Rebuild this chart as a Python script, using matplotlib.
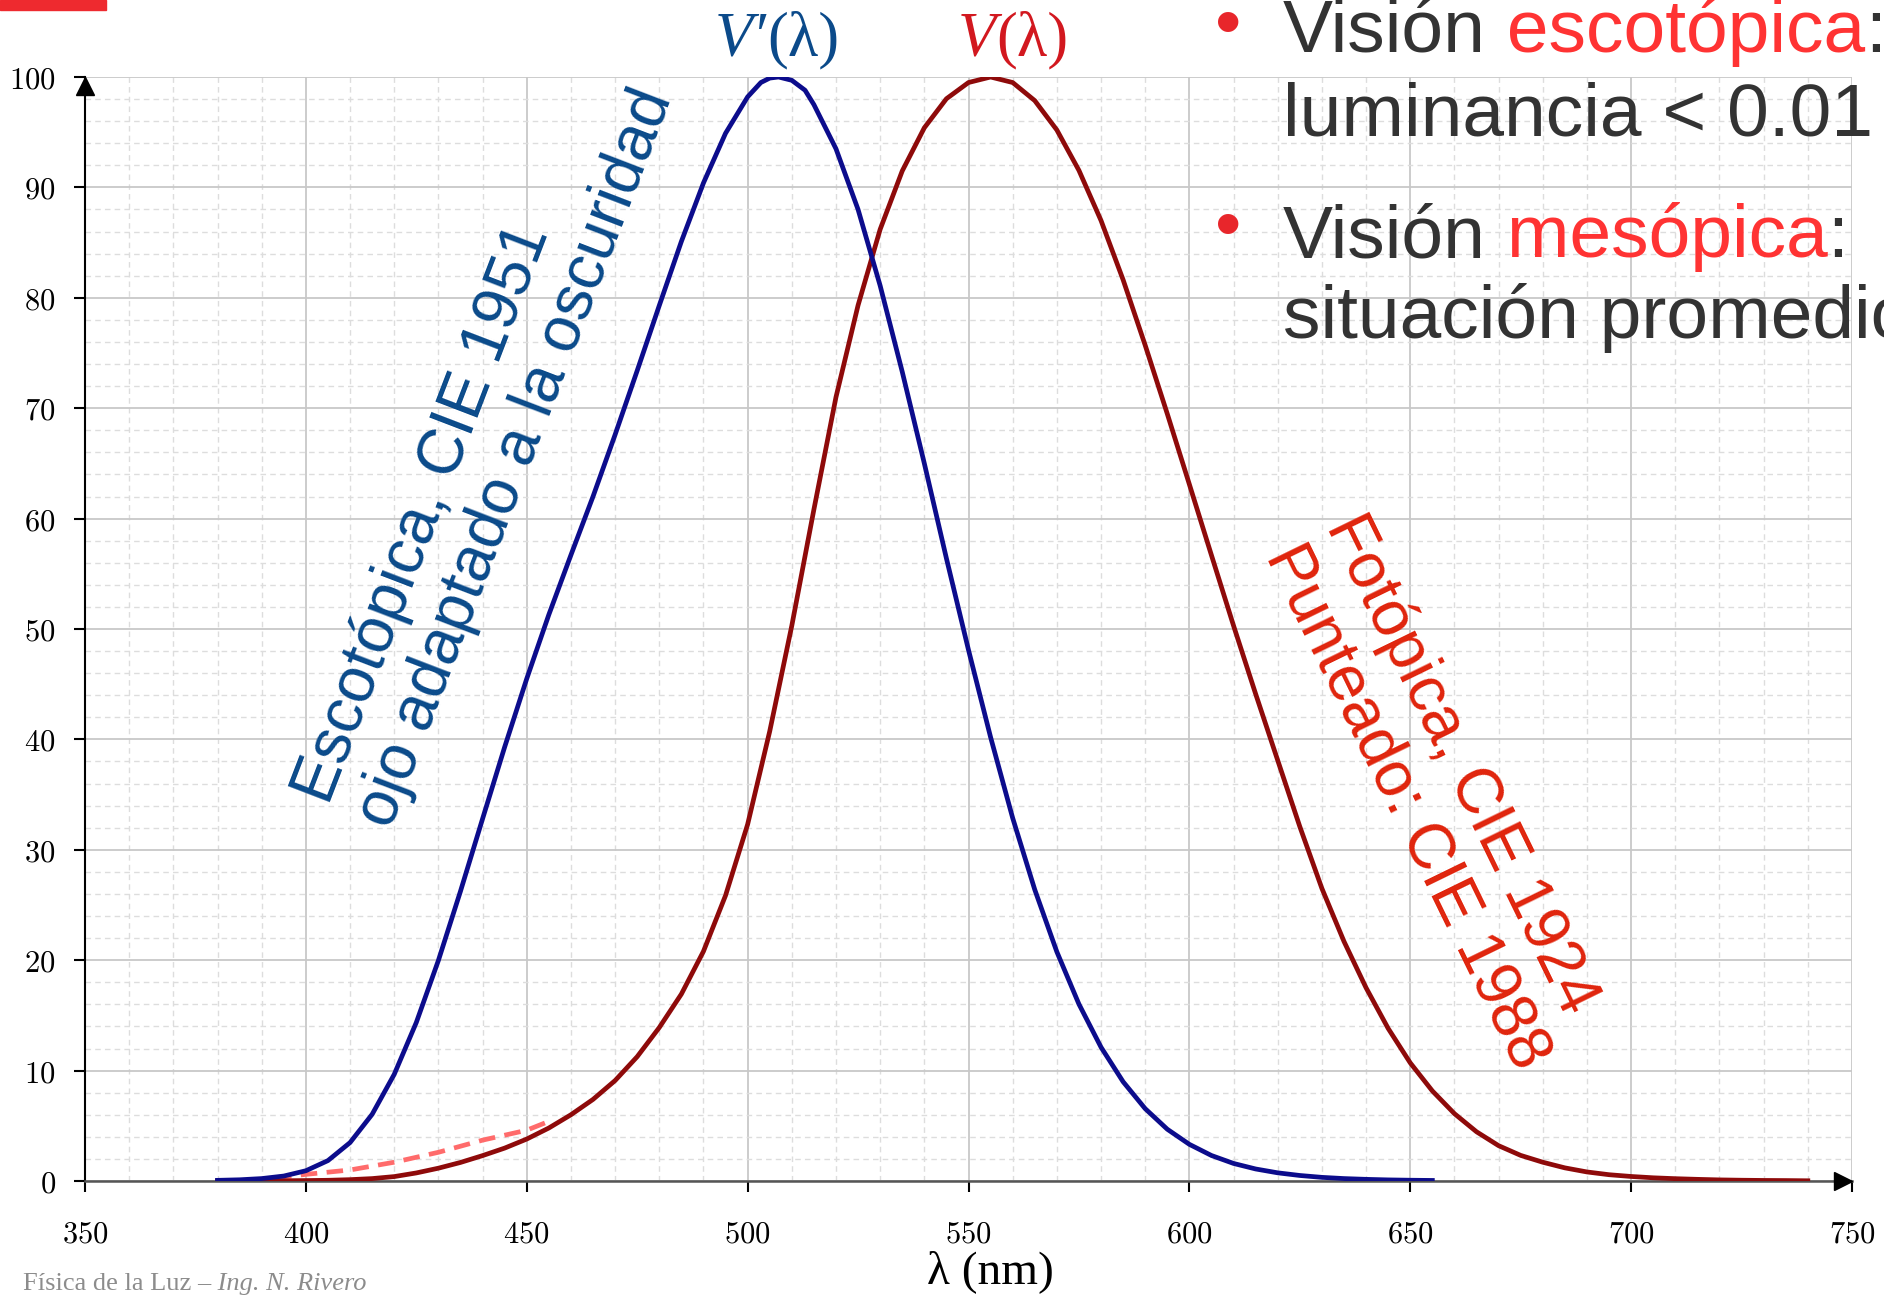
import matplotlib
matplotlib.use('Agg')
import matplotlib.pyplot as plt
from matplotlib.patches import Rectangle

# wavelengths (nm) and relative luminous efficiency (%)
wl_scot = [380, 385, 390, 395, 400, 405, 410, 415, 420, 425, 430, 435, 440, 445, 450,
           455, 460, 465, 470, 475, 480, 485, 490, 495, 500, 503, 505, 507, 510, 513,
           515, 520, 525, 530, 535, 540, 545, 550, 555, 560, 565, 570, 575, 580, 585,
           590, 595, 600, 605, 610, 615, 620, 625, 630, 635, 640, 645, 650, 655]
v_scot = [0.06, 0.11, 0.22, 0.45, 0.93, 1.85, 3.48, 6.04, 9.66, 14.36, 19.98, 26.25, 32.81,
          39.31, 45.5, 51.3, 56.7, 62.0, 67.6, 73.4, 79.3, 85.1, 90.4, 94.9, 98.2, 99.5,
          99.9, 100.0, 99.7, 98.8, 97.5, 93.5, 88.0, 81.1, 73.3, 65.0, 56.4, 48.1, 40.2,
          32.88, 26.39, 20.76, 16.02, 12.12, 8.99, 6.55, 4.69, 3.32, 2.31, 1.59, 1.09,
          0.74, 0.50, 0.33, 0.22, 0.15, 0.10, 0.07, 0.05]

wl_phot = [380, 385, 390, 395, 400, 405, 410, 415, 420, 425, 430, 435, 440, 445, 450,
           455, 460, 465, 470, 475, 480, 485, 490, 495, 500, 505, 510, 515, 520, 525,
           530, 535, 540, 545, 550, 555, 560, 565, 570, 575, 580, 585, 590, 595, 600,
           605, 610, 615, 620, 625, 630, 635, 640, 645, 650, 655, 660, 665, 670, 675,
           680, 685, 690, 695, 700, 705, 710, 715, 720, 725, 730, 735, 740]
v_phot = [0.004, 0.006, 0.012, 0.022, 0.04, 0.064, 0.121, 0.218, 0.40, 0.73, 1.16, 1.68,
          2.30, 2.98, 3.80, 4.80, 6.00, 7.39, 9.10, 11.26, 13.90, 16.93, 20.80, 25.86,
          32.3, 40.73, 50.3, 60.82, 71.0, 79.32, 86.2, 91.49, 95.4, 98.03, 99.5, 100.0,
          99.5, 97.86, 95.2, 91.54, 87.0, 81.63, 75.7, 69.49, 63.1, 56.68, 50.3, 44.12,
          38.1, 32.1, 26.5, 21.7, 17.5, 13.82, 10.7, 8.16, 6.1, 4.46, 3.2, 2.32, 1.7,
          1.19, 0.82, 0.57, 0.41, 0.29, 0.21, 0.15, 0.10, 0.07, 0.05, 0.04, 0.02]

# CIE 1988 modification (dashed)
wl_1988 = [393, 400, 410, 420, 430, 440, 450, 455]
v_1988 = [0.3, 0.6, 1.0, 1.7, 2.6, 3.7, 4.6, 5.4]

xticks = [350, 400, 450, 500, 550, 600, 650, 700, 750]
yticks = [0, 10, 20, 30, 40, 50, 60, 70, 80, 90, 100]

W, H = 1884, 1296
plt.rcParams['mathtext.fontset'] = 'cm'
head_font, head_size = 'Liberation Sans', 54

fig = plt.figure(figsize=(W / 100, H / 100), dpi=100)
fig.patches.append(Rectangle((0, 1 - 10 / H), 106 / W, 10 / H, transform=fig.transFigure,
                             color='#ee2a2f', zorder=5))

ax = fig.add_axes([85 / W, 1 - 1181 / H, (1852 - 85) / W, (1181 - 77) / H])
ax.set_xlim(350, 750)
ax.set_ylim(0, 100)

ax.set_xticks(xticks)
ax.set_xticklabels([f'${v}$' for v in xticks])
ax.set_yticks(yticks)
ax.set_yticklabels([f'${v}$' for v in yticks])
ax.set_xticks(range(350, 751, 10), minor=True)
ax.set_yticks(range(0, 101, 2), minor=True)
ax.tick_params(axis='both', which='major', labelsize=22, length=8, width=1.5, color='black')
ax.tick_params(axis='x', which='major', pad=20)
ax.tick_params(axis='y', which='major', pad=13)
ax.tick_params(which='minor', length=0)

ax.grid(which='major', color='#c8c8c8', lw=1.3, ls='-')
ax.grid(which='minor', color='#dddddd', lw=1.0, ls=(0, (4, 3)))
ax.set_axisbelow(True)

for s in ['top', 'right']:
    ax.spines[s].set_visible(False)
ax.spines['left'].set_color('black')
ax.spines['left'].set_linewidth(1.5)
ax.spines['bottom'].set_color('#555555')
ax.spines['bottom'].set_linewidth(1.8)
ax.plot([350], [99.2], marker='^', color='black', ms=13, clip_on=False, zorder=6)
ax.plot([748], [0], marker='>', color='black', ms=13, clip_on=False, zorder=6)

ax.plot(wl_1988, v_1988, color='#ff6b6b', lw=3.4, dashes=(3.5, 2), zorder=3)
ax.plot(wl_phot, v_phot, color='#8e0a0a', lw=3.4, zorder=4, solid_joinstyle='round')
ax.plot(wl_scot, v_scot, color='#0c0c8c', lw=3.4, zorder=5, solid_joinstyle='round')

# curve names
blue_lbl = '#0b4a8a'
red_lbl = '#d2181f'
t = fig.text(715 / W, 1 - 55 / H, 'V′', family='Liberation Serif', style='italic',
             fontsize=45, color=blue_lbl, ha='left', va='baseline')
ax.annotate('(λ)', xy=(1, 1 - 55 / H), xycoords=(t, 'figure fraction'),
            family='Liberation Serif', fontsize=45, color=blue_lbl,
            ha='left', va='baseline', annotation_clip=False)
t = fig.text(958 / W, 1 - 55 / H, 'V', family='Liberation Serif', style='italic',
             fontsize=45, color=red_lbl, ha='left', va='baseline')
ax.annotate('(λ)', xy=(1, 1 - 55 / H), xycoords=(t, 'figure fraction'),
            family='Liberation Serif', fontsize=45, color=red_lbl,
            ha='left', va='baseline', annotation_clip=False)

fig.text(990 / W, 1 - 1272 / H, 'λ (nm)', family='Liberation Serif', fontsize=34,
         ha='center', va='center', color='black')

# rotated annotations
fig.text(484 / W, 1 - 446 / H, 'Escotópica, CIE 1951\nojo adaptado a la oscuridad',
         family='Liberation Sans', fontsize=46, color='#0a4a8a', rotation=69,
         ha='center', va='center', multialignment='left', linespacing=1.15)
fig.text(1437 / W, 1 - 792 / H, 'Fotópica, CIE 1924\nPunteado: CIE 1988',
         family='Liberation Sans', fontsize=46, color='#e0240c', rotation=-64,
         ha='center', va='center', multialignment='left', linespacing=1.15)

# footer
t = fig.text(23 / W, 1 - 1290 / H, 'Física de la Luz –', family='Liberation Serif',
             fontsize=19, color='#8c8c8c', ha='left', va='baseline')
ax.annotate(' Ing. N. Rivero', xy=(1, 1 - 1290 / H), xycoords=(t, 'figure fraction'),
            family='Liberation Serif', style='italic', fontsize=19, color='#8c8c8c',
            ha='left', va='baseline', annotation_clip=False)

# bullet text, top right
dark = '#333333'
red = '#ff3333'


def line(parts, x, y_base):
    prev = fig.text(x / W, 1 - y_base / H, parts[0][0], family=head_font, fontsize=head_size,
                    color=parts[0][1], ha='left', va='baseline')
    for txt, col in parts[1:]:
        prev = ax.annotate(txt, xy=(1, 1 - y_base / H), xycoords=(prev, 'figure fraction'),
                           family=head_font, fontsize=head_size, color=col,
                           ha='left', va='baseline', annotation_clip=False)


for by in [27, 230]:
    fig.plot = None
    fig.text(1228 / W, 1 - by / H, '•', family='Liberation Sans', fontsize=head_size,
             color='#e8262b', ha='center', va='center')

line([('Visión', dark), (' escotópica', red), (':', dark)], 1283, 52)
line([('luminancia < 0.01', dark)], 1283, 135)
line([('Visión', dark), (' mesópica', red), (':', dark)], 1283, 257)
line([('situación promedio', dark)], 1283, 338)

fig.savefig('out.png', dpi=100)
